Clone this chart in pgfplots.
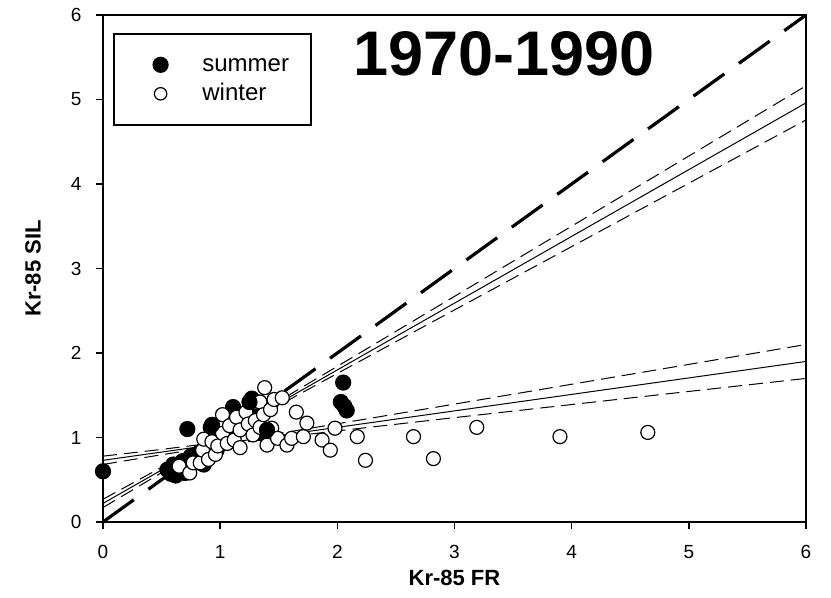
\documentclass[border=0pt]{standalone}
\usepackage{pgfplots}
\pgfplotsset{compat=1.18}
\usepackage{fontspec}
\setmainfont{Liberation Sans}
\pgfplotsset{
  dotlegend/.style={legend image code/.code={%
    \path (-12pt,0pt) (10pt,0pt);
    \draw[##1, mark size=#1] plot coordinates {(0pt,0pt)};}},
}
\begin{document}
\begin{tikzpicture}
\useasboundingbox (-51.5pt,-38pt) rectangle (364pt,261pt);
\begin{axis}[
  at={(0,0)}, anchor=south west,
  scale only axis, width=351.5pt, height=253.5pt,
  xmin=0, xmax=6, ymin=0, ymax=6,
  xtick={0,1,...,6}, ytick={0,1,...,6},
  clip=false,
  axis line style={line width=1pt},
  tick style={line width=0.8pt, black},
  tick align=outside, major tick length=3.5pt,
  tick pos=left,
  /pgf/number format/assume math mode=true,
  tick label style={font=\fontsize{9.5}{11}\selectfont},
  xticklabel style={yshift=-4.5pt},
  yticklabel style={xshift=-3.8pt},
  xlabel={Kr-85 FR}, ylabel={Kr-85 SIL},
  label style={font=\fontsize{11}{13}\selectfont\bfseries},
  xlabel style={at={(axis description cs:0.5,-0.1105)}, anchor=center},
  ylabel style={at={(axis description cs:-0.0996,0.5)}, anchor=center},
  legend cell align=left,
  legend style={at={(rel axis cs:0.0142,0.9645)}, anchor=north west,
    draw=black, line width=0.8pt, inner xsep=11pt, inner ysep=9pt,
    font=\fontsize{12}{14}\selectfont, row sep=1.5pt,
    nodes={inner sep=0pt, text height=10pt, text depth=3pt, anchor=west},
    /tikz/every odd column/.append style={column sep=10.5pt}},
]
% summer samples
\addplot[only marks, mark=*, mark size=3.8pt,
  mark options={fill=black, draw=black, line width=0.5pt}, dotlegend=3.8pt]
coordinates {
(0,0.60) (0.72,1.10) (0.55,0.62) (0.58,0.57) (0.60,0.68) (0.62,0.60)
(0.66,0.64) (0.68,0.72) (0.72,0.66) (0.75,0.78) (0.78,0.70) (0.82,0.82)
(0.85,0.76) (0.88,0.88) (0.92,0.84) (0.95,0.95) (0.92,1.12) (1.00,0.92)
(1.05,1.02) (1.10,0.98) (1.11,1.36) (1.27,1.46) (1.20,1.12) (1.30,1.25)
(1.35,1.05) (1.42,1.35) (2.05,1.65) (2.03,1.42) (2.06,1.37) (2.08,1.32)
(0.62,0.55) (0.70,0.58) (0.80,0.72) (0.86,0.68) (0.90,0.78) (0.97,0.85)
};
\addlegendentry{summer}
% winter samples
\addplot[only marks, mark=*, mark size=3.5pt,
  mark options={fill=white, draw=black, line width=0.6pt}, dotlegend=3.1pt]
coordinates {
(0.65,0.66) (0.74,0.58) (0.77,0.70) (0.83,0.70) (0.85,0.85) (0.86,0.98)
(0.90,0.74) (0.93,0.95) (0.96,0.80) (0.98,0.90) (1.02,1.05) (1.02,1.27)
(1.06,0.93) (1.08,1.14) (1.12,0.97) (1.14,1.24) (1.17,1.09) (1.17,0.88)
(1.22,1.30) (1.24,1.16) (1.28,1.03) (1.30,1.20) (1.34,1.42) (1.34,1.12)
(1.37,1.27) (1.38,1.59) (1.40,0.91) (1.43,1.33) (1.44,1.11) (1.46,1.45)
(1.49,0.99) (1.53,1.47) (1.57,0.91) (1.61,0.99) (1.65,1.30) (1.71,1.01)
(1.74,1.17) (1.87,0.97) (1.94,0.85) (1.98,1.11) (2.17,1.01) (2.24,0.73)
(2.65,1.01) (2.82,0.75) (3.19,1.12) (3.90,1.01) (4.65,1.06)
};
\addlegendentry{winter}
% a few summer samples sit on top of the winter ones
\addplot[forget plot, only marks, mark=*, mark size=3.8pt,
  mark options={fill=black, draw=black, line width=0.5pt}]
coordinates {(1.40,1.09) (0.93,1.15) (1.25,1.42)};
% 1:1 line
\addplot[forget plot, black, line width=1.6pt, dash pattern=on 19pt off 9pt]
  coordinates {(0,0) (6,6)};
% summer regression with 95% confidence band
\addplot[forget plot, black, line width=0.5pt] coordinates {(0,0.22) (6,4.96)};
\addplot[forget plot, black, line width=0.5pt, dash pattern=on 7pt off 3.5pt]
  coordinates {(0,0.269) (0.5,0.647) (1,1.030) (1.5,1.431) (2,1.842) (3,2.670) (4,3.501) (5,4.331) (6,5.162)};
\addplot[forget plot, black, line width=0.5pt, dash pattern=on 7pt off 3.5pt]
  coordinates {(0,0.171) (0.5,0.583) (1,0.990) (1.5,1.379) (2,1.758) (3,2.510) (4,3.259) (5,4.009) (6,4.758)};
% winter regression with 95% confidence band
\addplot[forget plot, black, line width=0.5pt] coordinates {(0,0.73) (6,1.90)};
\addplot[forget plot, black, line width=0.5pt, dash pattern=on 7pt off 3.5pt]
  coordinates {(0,0.779) (0.5,0.859) (1,0.945) (1.5,1.048) (2,1.162) (3,1.395) (4,1.630) (5,1.865) (6,2.101)};
\addplot[forget plot, black, line width=0.5pt, dash pattern=on 7pt off 3.5pt]
  coordinates {(0,0.681) (0.5,0.796) (1,0.905) (1.5,0.997) (2,1.078) (3,1.235) (4,1.390) (5,1.545) (6,1.699)};
\node[font=\fontsize{31.5}{34}\selectfont\bfseries] at (axis cs:3.42,5.54) {1970-1990};
\end{axis}
\end{tikzpicture}
\end{document}
